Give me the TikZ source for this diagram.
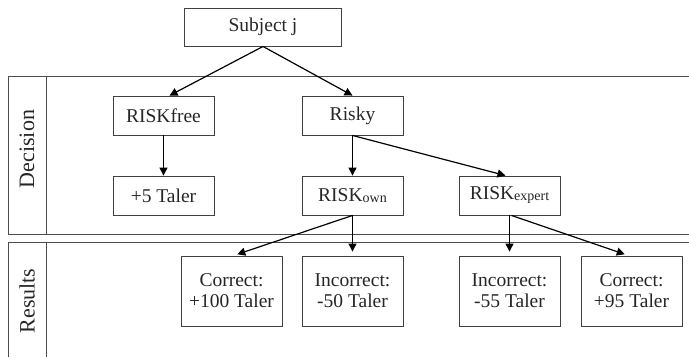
\documentclass[tikz,border=0pt]{standalone}
\usepackage{fontspec}
\setmainfont{Liberation Serif}
\usetikzlibrary{arrows.meta}
\tikzset{
  box/.style={draw=black!75, line width=0.9pt, minimum width=101pt, minimum height=39pt, inner sep=0pt, font=\fontsize{19.5}{21}\selectfont, align=center, text=black!85},
  tall/.style={box, minimum height=70pt},
  arr/.style={-{Triangle[length=8pt,width=8pt]}, line width=1.2pt, black},
  panel/.style={draw=black!70, line width=1pt},
  side/.style={rotate=90, font=\fontsize{22}{24}\selectfont, text=black!85},
}
\newcommand{\lowsub}[1]{{\fontsize{14}{14}\selectfont\raisebox{-1pt}{#1}}}
\begin{document}
\begin{tikzpicture}[x=1pt,y=-1pt]
\useasboundingbox (0,0) rectangle (689,357);
% panels
\draw[panel] (689,76) -- (8,76) -- (8,234) -- (689,234);
\draw[panel] (46,76) -- (46,234);
\draw[panel] (689,242) -- (8,242) -- (8,357);
\draw[panel] (46,242) -- (46,357);
\node[side] (dec) at (27,149) {Decision};
\node[side] (res) at (27,301) {Results};
% nodes
\node[box, minimum width=157pt, minimum height=38pt] (subj) at (263,27) {Subject j};
\node[box] (free) at (163.5,115.5) {RISKfree};
\node[box] (risky) at (352.5,115.5) {Risky};
\node[box] (five) at (163.5,195.5) {+5 Taler};
\node[box] (own) at (352.5,195.5) {RISK\lowsub{own}};
\node[box] (expert) at (509.5,195.5) {RISK\lowsub{expert}};
\node[tall] (c100) at (231.5,291) {Correct:\\+100 Taler};
\node[tall] (i50) at (352.5,291) {Incorrect:\\-50 Taler};
\node[tall] (i55) at (509.5,291) {Incorrect:\\-55 Taler};
\node[tall] (c95) at (631.5,291) {Correct:\\+95 Taler};
% arrows
\draw[arr] (subj.south) -- ([xshift=6pt]free.north);
\draw[arr] (subj.south) -- (risky.north);
\draw[arr] (free.south) -- (five.north);
\draw[arr] (risky.south) -- (own.north);
\draw[arr] (risky.south) -- ([xshift=-4pt]expert.north);
\draw[arr, shorten >=4pt] (own.south) -- ([xshift=2pt]c100.north);
\draw[arr, shorten >=4pt] (own.south) -- (i50.north);
\draw[arr, shorten >=4pt] (expert.south) -- (i55.north);
\draw[arr, shorten >=4pt] ([xshift=2pt]expert.south) -- ([xshift=-3pt]c95.north);
\end{tikzpicture}
\end{document}
